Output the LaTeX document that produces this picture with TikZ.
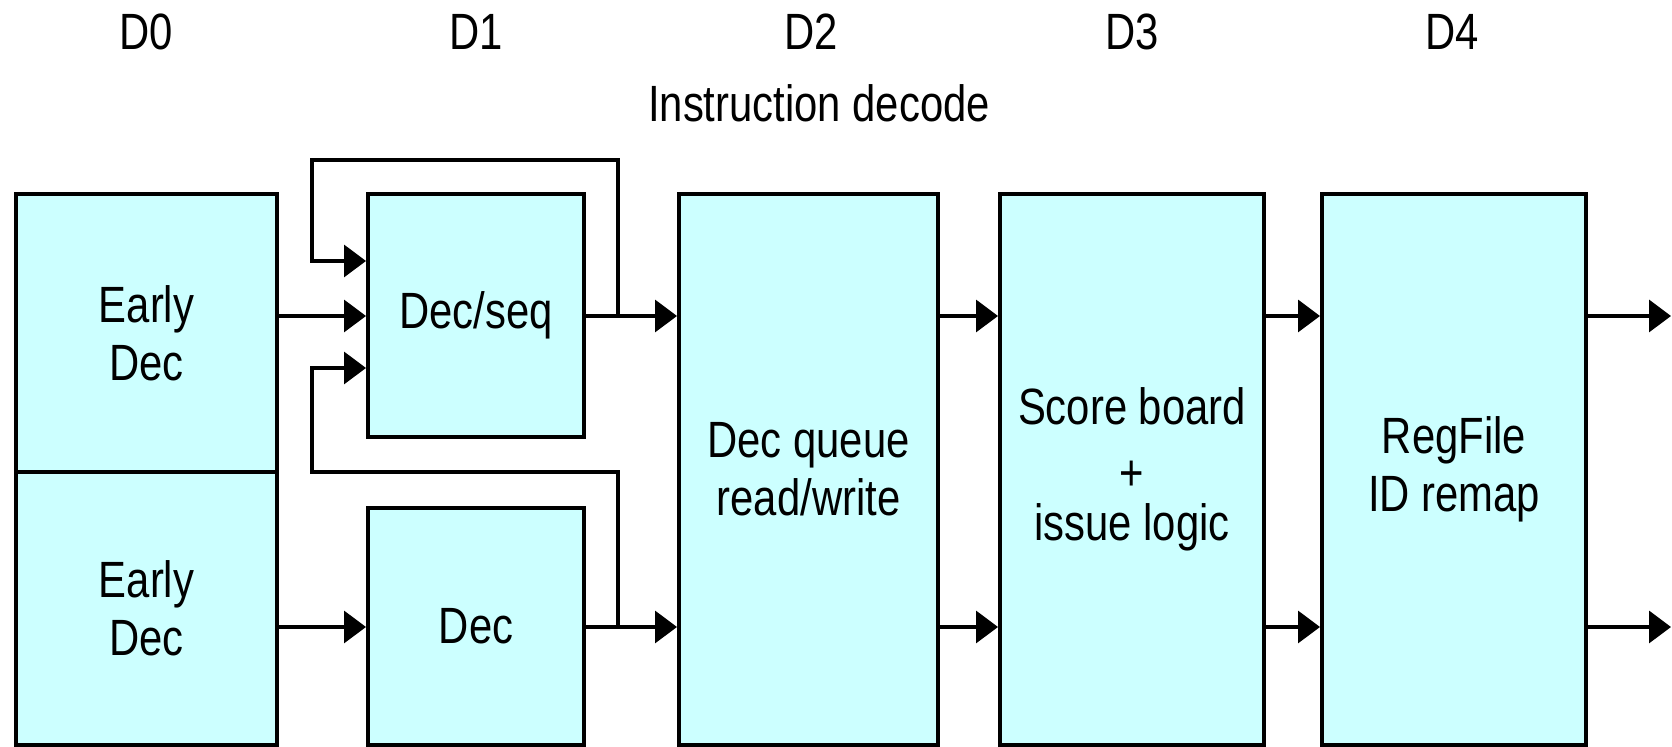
\documentclass[tikz,border=0pt]{standalone}
\usepackage{fontspec}
\setmainfont{Liberation Sans}[FakeStretch=0.82]
\usetikzlibrary{arrows.meta, calc}
\definecolor{cBox}{RGB}{204,255,255}
\tikzset{
	blk/.style ={rectangle, draw=black, line width=2pt, fill=cBox, align=center, inner sep=0pt},
	lbl/.style ={anchor=base, inner sep=0pt},
	sig/.style ={-{Triangle[length=11pt, width=16pt]}, line width=1.7pt},
}
\begin{document}
\begin{tikzpicture}[x=0.5pt, y=-0.5pt, font=\fontsize{25.5pt}{29pt}\selectfont]
	\useasboundingbox (0,0) rectangle (1672,747);
	% stage labels
	\foreach \x/\n in {146.5/0, 476/1, 811/2, 1132/3, 1452/4}
		\node[lbl] (d\n) at (\x,50) {D\n};
	\node[lbl] (title) at (819,122) {Instruction decode};
	% blocks
	\node[blk, minimum width=130.5pt, minimum height=139pt]   (ed1) at (146.5,333)   {Early\\Dec};
	\node[blk, minimum width=130.5pt, minimum height=136.5pt] (ed2) at (146.5,608.5) {Early\\Dec};
	\node[blk, minimum width=108pt, minimum height=121.5pt]   (ds)  at (476,315.5)   {Dec/seq};
	\node[blk, minimum width=108pt, minimum height=118.5pt]   (dc)  at (476,626.5)   {Dec};
	\node[blk, minimum width=129.5pt, minimum height=275.5pt] (dq)  at (808.5,469.5) {Dec queue\\read/write};
	\node[blk, minimum width=132pt, minimum height=275.5pt]   (sb)  at (1132,469.5)  {Score board\\\raisebox{-4pt}{+}\\issue logic};
	\node[blk, minimum width=132pt, minimum height=275.5pt]   (rf)  at (1454,469.5)  {RegFile\\ID remap};
	% signal levels
	\coordinate (rowA) at (0,316);
	\coordinate (rowB) at (0,627);
	\coordinate (inA) at (0,261);
	\coordinate (inB) at (0,368);
	\coordinate (tapA) at (618,316);
	\coordinate (tapB) at (618,627);
	\coordinate (loopA) at (312,160);
	\coordinate (loopB) at (312,472);
	\coordinate (edge) at (1671,0);
	% forward paths
	\draw[sig] (ed1.east |- rowA) -- (ds.west |- rowA);
	\draw[sig] (ed2.east |- rowB) -- (dc.west |- rowB);
	\draw[sig] (ds.east |- rowA) -- (dq.west |- rowA);
	\draw[sig] (dc.east |- rowB) -- (dq.west |- rowB);
	\foreach \a/\b in {dq/sb, sb/rf}{
		\draw[sig] (\a.east |- rowA) -- (\b.west |- rowA);
		\draw[sig] (\a.east |- rowB) -- (\b.west |- rowB);
	}
	\draw[sig] (rf.east |- rowA) -- (edge |- rowA);
	\draw[sig] (rf.east |- rowB) -- (edge |- rowB);
	% feedback into Dec/seq
	\draw[sig] (tapA) |- (loopA) |- (ds.west |- inA);
	\draw[sig] (tapB) |- (loopB) |- (ds.west |- inB);
\end{tikzpicture}
\end{document}
